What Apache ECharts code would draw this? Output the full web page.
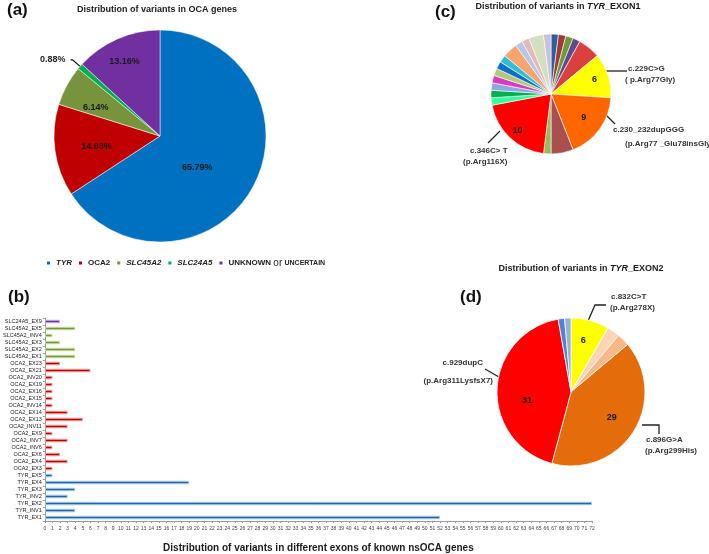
<!DOCTYPE html>
<html><head><meta charset="utf-8">
<script src="https://cdn.jsdelivr.net/npm/echarts/dist/echarts.min.js"></script>
<style>html,body{margin:0;padding:0;background:#fff}#c{width:709px;height:554px}</style>
</head><body><div id="c"></div>
<script>
// ---------- DATA ----------
const genes = ['TYR', 'OCA2', 'SLC45A2', 'SLC24A5', 'UNKNOWN or UNCERTAIN'];
const geneCounts = [75, 16, 7, 1, 15];

const exonCategories = ['TYR_EX1','TYR_INV1','TYR_EX2','TYR_INV2','TYR_EX3','TYR_EX4','TYR_EX5',
  'OCA2_EX3','OCA2_EX4','OCA2_EX6','OCA2_INV6','OCA2_INV7','OCA2_EX9','OCA2_INV11','OCA2_EX13',
  'OCA2_EX14','OCA2_INV14','OCA2_EX15','OCA2_EX16','OCA2_EX19','OCA2_INV20','OCA2_EX21','OCA2_EX23',
  'SLC45A2_EX1','SLC45A2_EX2','SLC45A2_EX3','SLC45A2_INV4','SLC45A2_EX5','SLC24A5_EX9'];
const exonCounts = [52,4,72,3,4,19,1, 1,3,2,1,3,1,3,5,3,1,1,1,1,1,6,2, 4,4,2,1,4, 2];

const exon1Names = ['v1','v2','v3','v4','v5','c.229C>G','c.230_232dupGGG','v8','v9','c.346C>T',
  'v11','v12','v13','v14','v15','v16','v17','v18','v19','v20','v21','v22'];
const exon1Counts = [1,1,1,1,3,6,9,3,1,10,1,1,1,1,1,1,1,2,1,1,2,1];

const exon2Names = ['c.832C>T','w2','w3','c.896G>A','c.929dupC','w6','w7'];
const exon2Counts = [6,2,2,29,31,1,1];

// ---------- STYLE ----------
const FONT = 'Liberation Sans, Arial, sans-serif';
const geneColors = ['#0070c0','#c00000','#77933c','#00b050','#7030a0'];
const barColors = {TYR:['#1f67ad','#a9cbe9'], OCA2:['#c00000','#f0a0a0'], SLC45A2:['#77933c','#c9dba6'], SLC24A5:['#7030a0','#c9b0dd']};
const exon1Colors = ['#2e5e9e','#a03a3a','#6f9a3a','#5f4a8b','#d9403f','#ffff00','#ff6600','#a9504e','#9bbb59','#ff0000',
  '#33ff99','#00b050','#8ea9db','#d63bc4','#b3c97a','#0f6fc6','#33bcd2','#f7a46f','#b4c7e7','#e6b9b8','#d3dfc0','#c9c0da'];
const exon2Colors = ['#ffff00','#fcd5b5','#f8b98a','#e46c0a','#ff0000','#4f81d8','#95b3d7'];

const chart = echarts.init(document.getElementById('c'), null, {renderer:'canvas'});

function offsetLayout(offsets) {
  return function (p) {
    const o = offsets[p.dataIndex];
    if (!o) return;
    const r = p.labelRect;
    return {x: r.x + r.width / 2 + o[0], y: r.y + r.height / 2 + o[1]};
  };
}

const numLabel = {show: true, position: 'inside', fontSize: 9, fontWeight: 'bold', color: '#1a1a1a', fontFamily: FONT, formatter: '{c}'};

const pieAData = genes.map((g, i) => ({
  name: g, value: geneCounts[i], itemStyle: {color: geneColors[i]},
  label: g === 'SLC24A5' ? {position: 'outside', color: '#222'} : {},
  labelLine: {show: g === 'SLC24A5'}
}));

const exon1Data = exon1Names.map((n, i) => ({
  name: n, value: exon1Counts[i], itemStyle: {color: exon1Colors[i]},
  label: {show: exon1Counts[i] >= 6}
}));
const exon2Data = exon2Names.map((n, i) => ({
  name: n, value: exon2Counts[i], itemStyle: {color: exon2Colors[i]},
  label: {show: exon2Counts[i] >= 6}
}));

const barData = exonCounts.map((v, i) => {
  const c = barColors[exonCategories[i].split('_')[0]];
  return {value: v, itemStyle: {color: c[0], borderColor: c[1], borderWidth: 1}};
});

const titleStyle = {fontSize: 9, fontWeight: 'bold', color: '#1a1a1a', fontFamily: FONT};
const panelStyle = {fontSize: 17, fontWeight: 'bold', color: '#111', fontFamily: FONT};
const co = {fontSize: 8, fontWeight: 'bold', fill: '#333', fontFamily: FONT};
const italicRich = {i: {fontStyle: 'italic', fontWeight: 'bold', fontSize: 9, fontFamily: FONT, color: '#1a1a1a'}};

function txt(x, y, text, align) {
  return {type: 'text', x: x, y: y, silent: true,
    style: Object.assign({text: text, align: align || 'left', verticalAlign: 'middle'}, co)};
}
function line(pts) {
  return {type: 'polyline', silent: true, shape: {points: pts}, style: {stroke: '#222', lineWidth: 1.3, fill: null}};
}

chart.setOption({
  animation: false,
  backgroundColor: '#fff',
  title: [
    {text: '(a)', left: 2, top: -3, textStyle: panelStyle},
    {text: 'Distribution of variants in OCA genes', left: 152, top: 0, textAlign: 'center', textStyle: titleStyle},
    {text: '(b)', left: 3, top: 284, textStyle: panelStyle},
    {text: '(c)', left: 430, top: -1, textStyle: panelStyle},
    {text: 'Distribution of variants in {i|TYR}_EXON1', left: 553, top: -3, textAlign: 'center',
      textStyle: Object.assign({rich: italicRich}, titleStyle)},
    {text: '(d)', left: 455, top: 284, textStyle: panelStyle},
    {text: 'Distribution of variants in {i|TYR}_EXON2', left: 576, top: 259, textAlign: 'center',
      textStyle: Object.assign({rich: italicRich}, titleStyle)}
  ],
  legend: {
    data: genes, left: 40, top: 253, icon: 'rect', itemWidth: 5, itemHeight: 5, itemGap: 5,
    selectedMode: false,
    textStyle: {fontSize: 8, fontWeight: 'bold', color: '#222', fontFamily: FONT,
      rich: {
        i: {fontStyle: 'italic', fontWeight: 'bold', fontSize: 8, fontFamily: FONT, color: '#222'},
        b: {fontWeight: 'bold', fontSize: 8, fontFamily: FONT, color: '#222'},
        o: {fontWeight: 'normal', fontSize: 10, fontFamily: FONT, color: '#222'},
        s: {fontWeight: 'bold', fontSize: 7, fontFamily: FONT, color: '#222'}
      }},
    formatter: function (n) {
      if (n === 'TYR' || n === 'SLC45A2' || n === 'SLC24A5') return '{i|' + n + '}';
      if (n === 'OCA2') return '{b|' + n + '}';
      return '{b|UNKNOWN} {o|or} {s|UNCERTAIN}';
    }
  },
  grid: {left: 42, right: 117, top: 318, bottom: 30, containLabel: false},
  xAxis: {
    type: 'value', min: 0, max: 72, interval: 1,
    name: 'Distribution of variants in different exons of known nsOCA genes',
    nameLocation: 'middle', nameGap: 22,
    nameTextStyle: {fontSize: 10, fontWeight: 'bold', color: '#1a1a1a', fontFamily: FONT},
    axisLine: {show: true, lineStyle: {color: '#999'}},
    axisTick: {show: true, length: 2, lineStyle: {color: '#999'}},
    axisLabel: {fontSize: 5, color: '#444', margin: 5, fontFamily: FONT},
    splitLine: {show: false}
  },
  yAxis: {
    type: 'category', data: exonCategories,
    axisLine: {show: true, lineStyle: {color: '#999'}},
    axisTick: {show: true, length: 2, lineStyle: {color: '#999'}},
    axisLabel: {fontSize: 5.5, color: '#222', margin: 3, fontFamily: FONT, interval: 0}
  },
  series: [
    {
      type: 'pie', name: 'genes', center: [160, 136], radius: [0, 106], startAngle: 90, clockwise: true,
      avoidLabelOverlap: false, data: pieAData,
      itemStyle: {borderColor: '#fff', borderWidth: 0.5},
      label: {show: true, position: 'inside', fontSize: 9, fontWeight: 'bold', color: '#1a1a1a', fontFamily: FONT,
        formatter: function (p) { return p.percent.toFixed(2) + '%'; }},
      labelLine: {length: 10, length2: 2, lineStyle: {color: '#111', width: 1.3}},
      labelLayout: offsetLayout([[-12, 5], [-8, 3], [-15, -2], null, [-13, -23]])
    },
    {
      type: 'bar', name: 'exons', data: barData, barWidth: 3.5
    },
    {
      type: 'pie', name: 'exon1', center: [551, 94], radius: [0, 60], startAngle: 90,
      avoidLabelOverlap: false, data: exon1Data,
      itemStyle: {borderColor: '#fff', borderWidth: 0.6},
      label: numLabel, labelLine: {show: false},
      labelLayout: offsetLayout(exon1Counts.map((c, i) => i === 5 ? [12, -4] : i === 6 ? [6, 4] : i === 9 ? [-11, 12] : null))
    },
    {
      type: 'pie', name: 'exon2', center: [571, 392], radius: [0, 74], startAngle: 90,
      avoidLabelOverlap: false, data: exon2Data,
      itemStyle: {borderColor: '#fff', borderWidth: 0.8},
      label: numLabel, labelLine: {show: false},
      labelLayout: offsetLayout([[2, -13], null, null, [7, 4], [-4, 10], null, null])
    }
  ],
  graphic: [
    // (c) callouts
    line([[604, 71], [627, 71]]),
    txt(628, 69, 'c.229C>G'), txt(625, 80, '( p.Arg77Gly)'),
    line([[606, 115], [615, 124]]),
    txt(613, 130, 'c.230_232dupGGG'), txt(625, 144, '(p.Arg77 _Glu78insGly)'),
    line([[500, 131], [488, 143]]),
    txt(470, 151, 'c.346C> T'), txt(463, 162, '(p.Arg116X)'),
    // (d) callouts
    line([[588, 321], [595, 305], [606, 305]]),
    txt(611, 297, 'c.832C>T'), txt(610, 308, '(p.Arg278X)'),
    line([[485, 369], [499, 377]]),
    txt(483, 363, 'c.929dupC', 'right'), txt(493, 381, '(p.Arg311LysfsX7)', 'right'),
    line([[642, 425], [659, 425], [659, 434]]),
    txt(646, 440, 'c.896G>A'), txt(645, 451, '(p.Arg299His)')
  ]
});
</script>
</body></html>
